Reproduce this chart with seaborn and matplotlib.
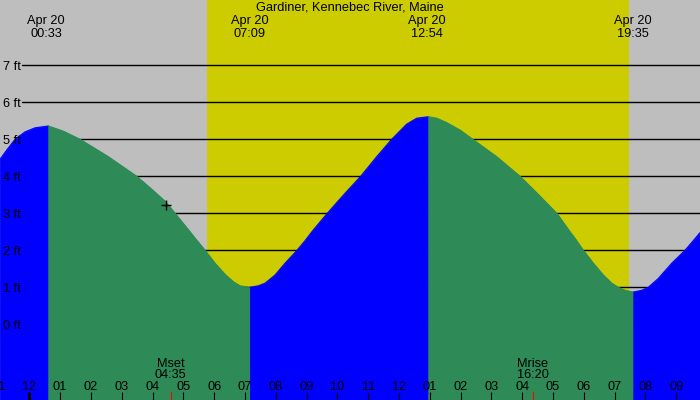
import numpy as np
import pandas as pd
import matplotlib
matplotlib.use("Agg")
import matplotlib.pyplot as plt
import seaborn as sns
from matplotlib.transforms import blended_transform_factory

# ---------------- data ----------------
title = "Gardiner, Kennebec River, Maine"
date_label = "Apr 20"
tide_labels = ["00:33", "07:09", "12:54", "19:35"]
tide_hours = [0.55, 7.15, 12.9, 19.583]

curve_hours = [-0.951, -0.724, -0.464, -0.140, 0.185, 0.617,
               1.104, 1.646, 2.564, 3.486, 3.973, 4.427, 4.729, 5.216, 5.378,
               5.703, 6.027, 6.352, 6.621, 6.839, 7.164,
               7.433, 7.650, 7.974, 8.299, 8.689, 8.949, 9.218, 9.672, 10.192,
               10.756, 11.276, 11.762, 12.249, 12.574, 12.950,
               13.223, 13.547, 13.978, 14.391, 15.170, 15.926, 16.520, 17.118,
               17.549, 17.712, 17.981, 18.306, 18.630, 18.903, 19.117, 19.334,
               19.604,
               19.877, 20.091, 20.416, 20.851, 21.282, 21.662, 21.769]
curve_feet = [4.46, 4.72, 5.00, 5.20, 5.31, 5.36,
              5.22, 5.00, 4.53, 4.00, 3.65, 3.31, 3.00, 2.50, 2.33,
              2.00, 1.65, 1.35, 1.15, 1.04, 1.00,
              1.04, 1.11, 1.33, 1.65, 2.00, 2.26, 2.55, 3.00, 3.49,
              4.00, 4.53, 5.00, 5.41, 5.57, 5.61,
              5.57, 5.45, 5.25, 5.00, 4.53, 4.00, 3.51, 3.00,
              2.50, 2.32, 2.00, 1.65, 1.33, 1.11, 1.00, 0.92,
              0.87,
              0.92, 1.00, 1.24, 1.65, 2.00, 2.37, 2.48]

sunrise_hour = 5.77
sunset_hour = 19.46
moon_labels = ["Mset", "Mrise"]
moon_times = ["04:35", "16:20"]
moon_hours = [4.583, 16.333]
marker_hour = 4.44
marker_feet = 3.22
ft_levels = [0, 1, 2, 3, 4, 5, 6, 7]
hour_ticks = list(range(-1, 22))

# ---------------- style ----------------
GRAY = "#BEBEBE"
YELLOW = "#CCCC00"
GREEN = "#2E8B57"
BLUE = "#0000FF"

sns.set_theme(style="white")
plt.rcParams["font.family"] = ["Liberation Sans", "DejaVu Sans"]
FS = 9.2

fig = plt.figure(figsize=(7, 4), dpi=100)
ax = fig.add_axes([0, 0, 1, 1])
ax.set_facecolor(GRAY)
x_min, x_max = -0.951, 21.769
y_min, y_max = -2.046, 8.765
ax.set_xlim(x_min, x_max)
ax.set_ylim(y_min, y_max)
for s in ax.spines.values():
    s.set_visible(False)
ax.set_xticks([])
ax.set_yticks([])

# daylight
ax.axvspan(sunrise_hour, sunset_hour, color=YELLOW, zorder=0, lw=0)

# gridlines
for f in ft_levels:
    ax.axhline(f, xmin=22 / 700, xmax=1, color="black", lw=1.0, zorder=1)

# tide fill, colored by rising (blue) / falling (green)
df = pd.DataFrame({"hour": curve_hours, "feet": curve_feet})
diff = np.sign(np.diff(df["feet"].values))
runs = []
start = 0
for i in range(1, len(diff) + 1):
    if i == len(diff) or diff[i] != diff[start]:
        runs.append((start, i, diff[start]))
        start = i
for a, b, sgn in runs:
    seg = df.iloc[a:b + 1]
    col = BLUE if sgn > 0 else GREEN
    ax.fill_between(seg["hour"], y_min, seg["feet"], color=col, lw=0.6,
                    edgecolor=col, zorder=2)
    sns.lineplot(data=seg, x="hour", y="feet", color=col, lw=0.8, ax=ax,
                 zorder=2.5, sort=False, estimator=None)
ax.set_xlabel("")
ax.set_ylabel("")

# y labels
ty = blended_transform_factory(ax.transAxes, ax.transData)
for f in ft_levels:
    ax.text(3 / 700, f, f"{f} ft", transform=ty, ha="left",
            va="center_baseline", fontsize=FS, color="black", zorder=5)

# top labels
tx = blended_transform_factory(ax.transData, ax.transAxes)
ax.text(0.5, 0.974, title, transform=ax.transAxes, ha="center",
        va="baseline", fontsize=FS, color="black", zorder=5)
for h, lab in zip(tide_hours, tide_labels):
    ax.text(h, 0.939, date_label, transform=tx, ha="center", va="baseline",
            fontsize=FS, color="black", zorder=5)
    ax.text(h, 0.908, lab, transform=tx, ha="center", va="baseline",
            fontsize=FS, color="black", zorder=5)

# moon labels
for h, lab, t in zip(moon_hours, moon_labels, moon_times):
    ax.text(h, 0.083, lab, transform=tx, ha="center", va="baseline",
            fontsize=FS, color="black", zorder=5)
    ax.text(h, 0.054, t, transform=tx, ha="center", va="baseline",
            fontsize=FS, color="black", zorder=5)
    ax.plot([h, h], [0, 0.02], transform=tx, color="red", lw=0.8, zorder=5)

# hour ticks & labels
for h in hour_ticks:
    lab = f"{(h - 1) % 12 + 1:02d}"
    ax.text(h, 0.025, lab, transform=tx, ha="center", va="baseline",
            fontsize=FS, color="black", zorder=5)
    lw = 2.2 if h % 24 == 0 else 0.8
    ax.plot([h, h], [0, 0.02], transform=tx, color="black", lw=lw, zorder=5,
            solid_capstyle="butt")

# current-time marker
ax.plot([marker_hour], [marker_feet], marker="+", color="black", ms=7,
        mew=1.0, zorder=6, linestyle="none")

fig.savefig("out.png", dpi=100)
